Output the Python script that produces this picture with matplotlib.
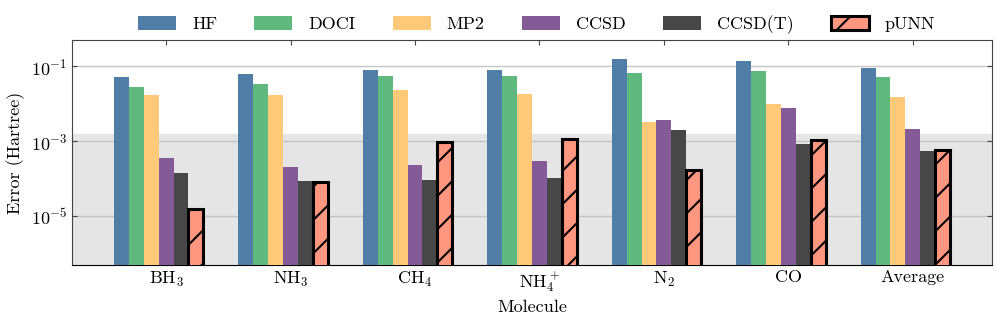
import numpy as np
import matplotlib
matplotlib.use("Agg")
from matplotlib import pyplot as plt

plt.rcParams['font.family'] = 'serif'
plt.rcParams['font.serif'] = ['cmr10']
plt.rcParams['mathtext.fontset'] = 'cm'
plt.rcParams['axes.unicode_minus'] = False
plt.rcParams['axes.formatter.use_mathtext'] = True
plt.rcParams['hatch.linewidth'] = 1.5

molecules = [r'BH$_3$', r'NH$_3$', r'CH$_4$', r'NH$_4^+$', r'N$_2$', 'CO', 'Average']
methods = ['HF', 'DOCI', 'MP2', 'CCSD', 'CCSD(T)', 'pUNN']

hf = [0.053, 0.062, 0.078, 0.078, 0.151, 0.136, 0.092]
doci = [0.028, 0.034, 0.054, 0.054, 0.066, 0.074, 0.051]
mp2 = [0.0166, 0.017, 0.023, 0.0187, 0.00335, 0.0101, 0.0148]
ccsd = [3.6e-4, 2.0e-4, 2.3e-4, 2.9e-4, 3.7e-3, 7.9e-3, 2.1e-3]
ccsdt = [1.4e-4, 8.5e-5, 9.3e-5, 1.07e-4, 2.05e-3, 8.3e-4, 5.4e-4]
punn = [1.6e-5, 8.3e-5, 9.8e-4, 1.15e-3, 1.7e-4, 1.08e-3, 5.9e-4]

chem_acc = 1.6e-3

colors = ['#517ea6', '#5fb97f', '#ffc97a', '#845b97', '#474747', '#ff9680']
series = [hf, doci, mp2, ccsd, ccsdt, punn]

fig, ax = plt.subplots(figsize=(9.97, 3.2), dpi=100)
fig.subplots_adjust(left=0.0722, right=0.995, top=0.875, bottom=0.172)

x = np.arange(len(molecules))
width = 0.12
for i in range(len(methods)):
	pos = x + (i - 3) * width
	if methods[i] == 'pUNN':
		ax.bar(pos, series[i], width, color=colors[i], edgecolor='black',
			linewidth=2.2, hatch='/', label=methods[i], zorder=3)
	else:
		ax.bar(pos, series[i], width, color=colors[i], label=methods[i], zorder=3)

ax.set_yscale('log')
ax.set_ylim(5e-7, 0.5)
ax.axhspan(1e-8, chem_acc, color='#e5e5e5', zorder=0)
ax.set_yticks([1e-5, 1e-3, 1e-1])
ax.yaxis.set_minor_locator(matplotlib.ticker.NullLocator())
ax.grid(axis='y', color='#c4c4c4', linewidth=1, zorder=1)
ax.set_axisbelow(True)

ax.set_xticks(x)
ax.set_xticklabels(molecules)
ax.tick_params(direction='in', top=True, right=True, labelsize=13, color='#444444')
ax.set_xlabel('Molecule', fontsize=13, labelpad=4)
ax.set_ylabel('Error (Hartree)', fontsize=13)
for s in ax.spines.values():
	s.set_color('#444444')
ax.spines['bottom'].set_color('black')

ax.legend(loc='lower center', bbox_to_anchor=(0.505, 0.955), ncol=6, frameon=False,
	fontsize=13, handlelength=2.1, handleheight=0.8, columnspacing=2.05, handletextpad=0.9)

plt.savefig('out.png')
